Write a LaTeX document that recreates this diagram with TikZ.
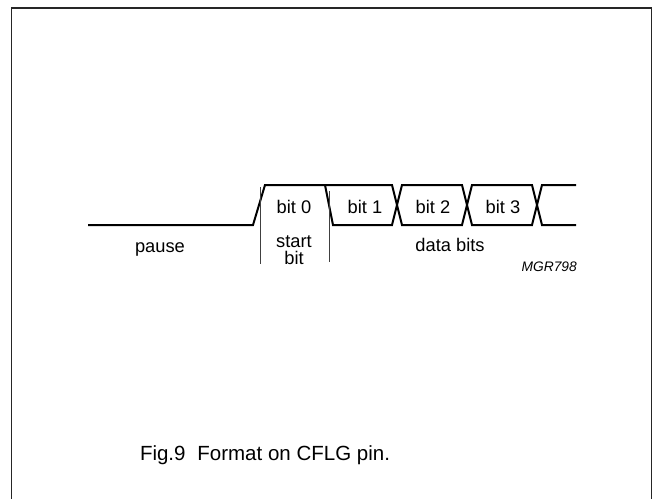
\documentclass[tikz,border=0pt]{standalone}
\usepackage{fontspec}
\setmainfont{Liberation Sans}
\begin{document}
\begin{tikzpicture}[x=1pt,y=-1pt,
  sig/.style={line width=2pt,line join=miter},
  mark line/.style={line width=0.9pt,black!75},
  lbl/.style={font=\fontsize{18.3}{20}\selectfont,inner sep=0pt,anchor=base},
  frame line/.style={line width=1.8pt,black!85}]
\useasboundingbox (0,0) rectangle (653,498);
\draw[frame line] (11.5,510) -- (11.5,8) -- (651.5,8) -- (651.5,510);
% waveform
\draw[sig] (88,225) -- (253,225) -- (265,185) -- (392,185) -- (402,225) -- (462,225) -- (472,185) -- (532,185) -- (542,225) -- (576,225);
\draw[sig] (325,185) -- (333,225) -- (392,225) -- (402,185) -- (462,185) -- (472,225) -- (532,225) -- (542,185) -- (576,185);
% boundary markers
\coordinate (m1t) at (260,187);
\coordinate (m1b) at (260,264);
\coordinate (m2t) at (329,191);
\coordinate (m2b) at (329,262);
\draw[mark line] (m1t) -- (m1b);
\draw[mark line] (m2t) -- (m2b);
% labels
\node[lbl] (b0) at (294,213) {bit 0};
\node[lbl] (b1) at (365,213) {bit 1};
\node[lbl] (b2) at (433,213) {bit 2};
\node[lbl] (b3) at (503,213) {bit 3};
\node[lbl] (pause) at (160,252) {pause};
\node[lbl] (start) at (294,247) {start};
\node[lbl] (sbit) at (294,264) {bit};
\node[lbl] (data) at (450,251) {data bits};
\node[font=\fontsize{13.8}{15}\selectfont\itshape,inner sep=0pt,anchor=base east] (mgr) at (577,271) {MGR798};
\node[font=\fontsize{20.5}{23}\selectfont,inner sep=0pt,anchor=base] (cap) at (265,460) {Fig.9\hspace{0.3em} Format on CFLG pin.};
\end{tikzpicture}
\end{document}
